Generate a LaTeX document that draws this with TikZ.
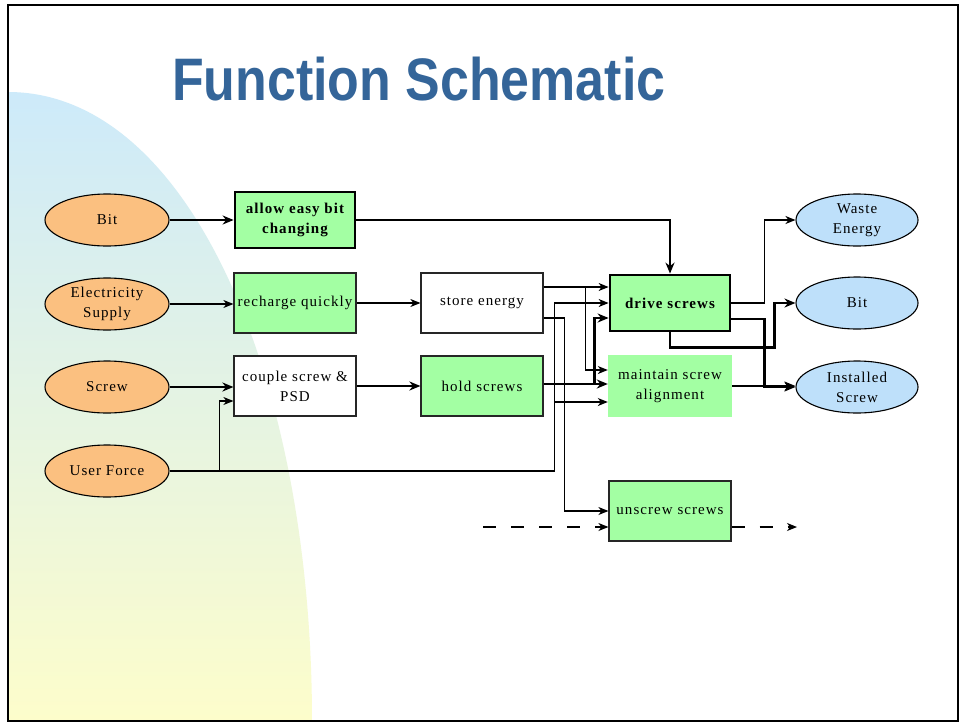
\documentclass[tikz,border=0pt]{standalone}
\usepackage{fontspec}
\setmainfont{Liberation Serif}[LetterSpace=7]
\newfontfamily\titlefont{Liberation Sans}
\usetikzlibrary{shapes.geometric,arrows.meta}
\definecolor{boxgreen}{HTML}{A3FFA3}
\definecolor{inorange}{HTML}{FBC080}
\definecolor{outblue}{HTML}{BEE0FA}
\definecolor{titleblue}{HTML}{346599}
\definecolor{bgblue}{HTML}{CDEAFA}
\definecolor{bgyellow}{HTML}{FDFDCB}
\tikzset{
  x=1pt,y=-1pt,
  txt/.style={font=\fontsize{15}{20}\selectfont, align=center, inner sep=0pt},
  inell/.style={txt, ellipse, draw=black, line width=1.1pt, fill=inorange, minimum width=124pt, minimum height=52pt},
  outell/.style={txt, ellipse, draw=black, line width=1.1pt, fill=outblue, minimum width=122pt, minimum height=52pt},
  fbox/.style={txt, rectangle, draw=black!85, line width=1.2pt, minimum width=122pt, minimum height=60pt},
  greenbox/.style={fbox, fill=boxgreen},
  whitebox/.style={fbox, fill=white},
  keybox/.style={fbox, fill=boxgreen, draw=black, line width=2.8pt, minimum width=120pt, minimum height=56pt},
  thinline/.style={line width=1.2pt, -{Stealth[length=10pt,width=8pt,inset=3pt]}},
  thickline/.style={line width=2.6pt, -{Stealth[length=11pt,width=9pt,inset=3.5pt]}},
  dashline/.style={line width=1.2pt, dash pattern=on 13pt off 15pt, -{Stealth[length=10pt,width=8pt,inset=3pt]}}
}
\begin{document}
\begin{tikzpicture}
\useasboundingbox (0,0) rectangle (960,723);
\fill[white] (0,0) rectangle (960,723);
% background shape
\shade[top color=bgblue, bottom color=bgyellow] (8,92) .. controls (190,92) and (312,380) .. (312,721) -- (8,721) -- cycle;
% frame
\draw[line width=2.2pt] (8,5) rectangle (958,721);
% title
\node[anchor=base west, inner sep=0pt, text=titleblue] (title) at (172,100)
  {\scalebox{0.865}[1]{\titlefont\bfseries\fontsize{60}{60}\selectfont Function Schematic}};

% input ellipses
\node[inell] (bit) at (107,220) {Bit};
\node[inell] (elec) at (107,304) {Electricity\\Supply};
\node[inell] (screw) at (107,387) {Screw};
\node[inell] (user) at (107,471) {User Force};

% boxes
\node[keybox] (allow) at (295,220) {\bfseries allow easy bit\\\bfseries changing};
\node[greenbox] (recharge) at (295,303) {recharge quickly};
\node[whitebox] (couple) at (295,386) {couple screw \&\\PSD};
\node[whitebox] (store) at (482,303) {store energy};
\node[greenbox] (hold) at (482,386) {hold screws};
\node[keybox] (drive) at (670,303) {\bfseries drive screws};
\node[txt, rectangle, fill=boxgreen, minimum width=124pt, minimum height=62pt] (maintain) at (670,386) {maintain screw\\alignment};
\node[greenbox] (unscrew) at (670,511) {unscrew screws};

% output ellipses
\node[outell] (waste) at (857,220) {Waste\\Energy};
\node[outell] (bitout) at (857,303) {Bit};
\node[outell] (inst) at (857,387) {Installed\\Screw};

% input connectors
\draw[thickline] (bit.east) -- (bit.east -| allow.west);
\draw[thinline] (elec.east) -- (elec.east -| recharge.west);
\draw[thickline] (screw.east) -- (screw.east -| couple.west);
\draw[thinline] (user.east) -| ([xshift=-14pt,yshift=-15pt]couple.west) -- ([yshift=-15pt]couple.west);
\draw[thinline] (user.east) -| ([xshift=-54pt]drive.west) -- (drive.west);
\draw[thinline] ([xshift=-54pt,yshift=-16pt]maintain.west) -- ([yshift=-16pt]maintain.west);

% middle connectors
\draw[thinline] (recharge.east) -- (store.west);
\draw[thickline] (couple.east) -- (hold.west);
\draw[thickline] (allow.east) -| (drive.north);
\draw[thinline] ([yshift=16pt]store.east) -- ([yshift=16pt]drive.west);
\draw[thinline] ([yshift=16pt]store.east) -| ([xshift=-22pt,yshift=16pt]maintain.west) -- ([yshift=16pt]maintain.west);
\draw[thinline] ([yshift=-15pt]store.east) -| ([xshift=-44pt]unscrew.west) -- (unscrew.west);
\draw[thickline] ([yshift=2pt]hold.east) -- ([yshift=2pt]maintain.west);
\draw[thickline] ([yshift=2pt]hold.east) -| ([xshift=-14pt,yshift=-15pt]drive.west) -- ([yshift=-15pt]drive.west);

% output connectors
\draw[thinline] (drive.east) -| ([xshift=-31pt]waste.west) -- (waste.west);
\draw[thickline] (drive.south) -- ([yshift=-15pt]drive.south) -| ([xshift=-21pt]bitout.west) -- (bitout.west);
\draw[thickline] ([yshift=-16pt]drive.east) -| ([xshift=-31pt]inst.west) -- (inst.west);
\draw[thickline] (maintain.east) -- (maintain.east -| inst.west);

% dashed flow
\coordinate (dstart) at (483,527);
\coordinate (dend) at (797,527);
\draw[dashline] (dstart) -- ([yshift=-16pt]unscrew.west);
\draw[dashline] ([yshift=-16pt]unscrew.east) -- (dend);
\end{tikzpicture}
\end{document}
